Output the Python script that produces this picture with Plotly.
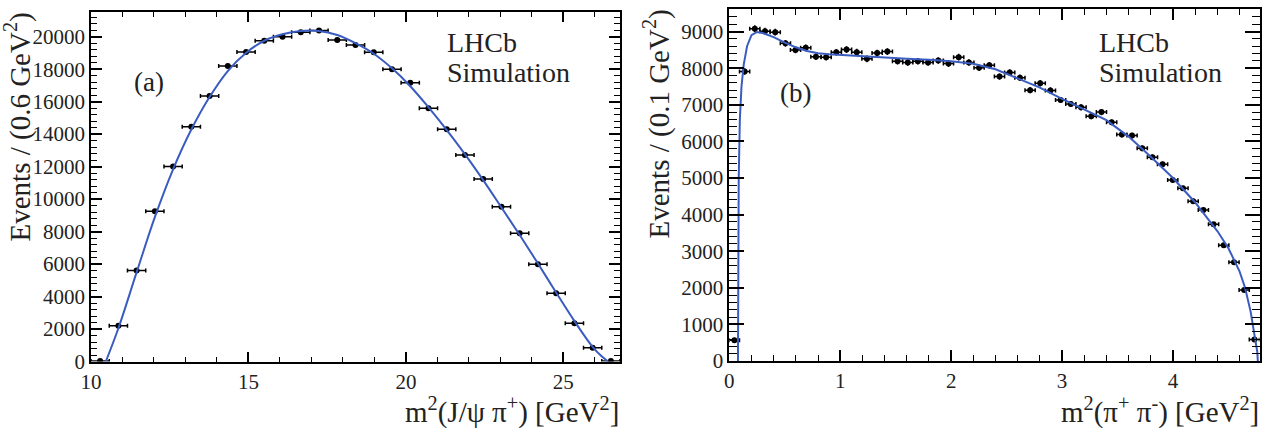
import plotly.graph_objects as go

# ---------------- data: panel (a) ----------------
a_x = [10.290, 10.869, 11.448, 12.028, 12.607, 13.186, 13.766, 14.345, 14.924, 15.503,
       16.083, 16.662, 17.241, 17.821, 18.400, 18.979, 19.559, 20.138, 20.717, 21.297,
       21.876, 22.455, 23.034, 23.614, 24.193, 24.772, 25.352, 25.931, 26.510]
a_y = [30, 2200, 5600, 9250, 12000, 14450, 16350, 18200, 19050, 19750,
       20000, 20270, 20380, 19800, 19490, 19040, 17990, 17170, 15590, 14300,
       12720, 11240, 9530, 7890, 5990, 4200, 2350, 850, 30]
a_halfbin = 0.2897

a_fit_x = [10.47, 10.87, 11.45, 12.03, 12.61, 13.19, 13.77, 14.35, 14.92, 15.5,
           16.08, 16.66, 17.24, 17.82, 18.4, 18.98, 19.56, 20.14, 20.72, 21.3,
           21.88, 22.46, 23.03, 23.61, 24.19, 24.77, 25.35, 25.93, 26.2, 26.42]
a_fit_y = [0, 2050, 5500, 8900, 11850, 14300, 16300, 17900, 19000, 19750,
           20150, 20350, 20350, 20100, 19600, 18950, 18050, 16950, 15650, 14250,
           12750, 11150, 9500, 7800, 6050, 4250, 2500, 900, 350, 0]

# ---------------- data: panel (b) ----------------
b_x = [0.046, 0.138, 0.230, 0.322, 0.414, 0.506, 0.597, 0.689, 0.781, 0.873,
       0.965, 1.057, 1.149, 1.241, 1.333, 1.425, 1.517, 1.609, 1.700, 1.792,
       1.884, 1.976, 2.068, 2.160, 2.252, 2.344, 2.436, 2.528, 2.620, 2.712,
       2.803, 2.895, 2.987, 3.079, 3.171, 3.263, 3.355, 3.447, 3.539, 3.631,
       3.723, 3.815, 3.906, 3.998, 4.090, 4.182, 4.274, 4.366, 4.458, 4.550,
       4.642, 4.734]
b_y = [570, 7910, 9080, 9010, 8985, 8680, 8500, 8555, 8312, 8298,
       8435, 8508, 8437, 8255, 8412, 8455, 8190, 8155, 8190, 8155,
       8210, 8125, 8300, 8155, 8010, 8080, 7770, 7880, 7740, 7400,
       7590, 7390, 7130, 7020, 6930, 6690, 6800, 6520, 6185, 6160,
       5810, 5570, 5375, 4945, 4720, 4365, 4128, 3735, 3160, 2700,
       1940, 590]
b_halfbin = 0.046

b_fit_x = [0.078, 0.080, 0.085, 0.095, 0.11, 0.13, 0.16, 0.2, 0.25, 0.3, 0.4, 0.5,
           0.6, 0.7, 0.8, 0.9, 1.0, 1.2, 1.4, 1.6, 1.8, 2.0, 2.2, 2.4, 2.6, 2.8,
           3.0, 3.2, 3.4, 3.6, 3.8, 4.0, 4.2, 4.4, 4.5, 4.6, 4.65, 4.7, 4.73,
           4.75, 4.76, 4.765]
b_fit_y = [0, 2500, 5000, 6600, 7500, 8100, 8600, 8900, 8990, 8960, 8850, 8700,
           8570, 8470, 8410, 8380, 8360, 8330, 8300, 8260, 8230, 8190, 8120, 7970,
           7720, 7470, 7160, 6870, 6580, 6130, 5580, 5000, 4330, 3550, 3080, 2450,
           2000, 1350, 850, 450, 250, 0]

FONT = "Liberation Serif"
W, H = 1273, 430
FIT_COLOR = "#3a5cc0"
TXT = "#222222"

def px(x):
    return x / W

def py(y):
    return (H - y) / H

fig = go.Figure()

def data_trace(x, y, hb, xa, ya):
    return go.Scatter(
        x=x, y=y, mode="markers", xaxis=xa, yaxis=ya,
        marker=dict(color="black", size=6),
        error_x=dict(type="data", array=[hb] * len(x), color="black", thickness=1.5, width=2),
        error_y=dict(type="data", array=[v ** 0.5 for v in y], color="black", thickness=1.5, width=0),
        showlegend=False,
    )

fig.add_trace(data_trace(a_x, a_y, a_halfbin, "x", "y"))
fig.add_trace(go.Scatter(x=a_fit_x, y=a_fit_y, mode="lines", xaxis="x", yaxis="y",
                         line=dict(color=FIT_COLOR, width=2, shape="spline"), showlegend=False))
fig.add_trace(data_trace(b_x, b_y, b_halfbin, "x2", "y2"))
fig.add_trace(go.Scatter(x=b_fit_x, y=b_fit_y, mode="lines", xaxis="x2", yaxis="y2",
                         line=dict(color=FIT_COLOR, width=2), showlegend=False))

def axis(domain, rng, dtick, minor_dtick, anchor, tl, mtl):
    return dict(
        domain=domain, range=rng, anchor=anchor, dtick=dtick, tick0=0,
        automargin=False, tickformat="d",
        showgrid=False, zeroline=False, showline=True, linecolor="black", linewidth=1.6,
        mirror="allticks", ticks="inside", ticklen=tl, tickwidth=1.6, tickcolor="black",
        minor=dict(ticks="inside", ticklen=mtl, tickwidth=1.3, tickcolor="black",
                   dtick=minor_dtick, showgrid=False),
        tickfont=dict(family=FONT, size=21, color=TXT),
    )

xd1 = [px(91), px(620)]
xd2 = [px(729.3), px(1259.5)]
yd1 = [py(361.5), py(12)]
yd2 = [py(361), py(9)]

fig.update_layout(
    width=W, height=H, margin=dict(l=0, r=0, t=0, b=0),
    paper_bgcolor="white", plot_bgcolor="white",
    font=dict(family=FONT, color=TXT),
    xaxis=axis(xd1, [10, 26.8], 5, 1, "y", 10, 5),
    yaxis=axis(yd1, [0, 21520], 2000, 400, "x", 11, 6),
    xaxis2=axis(xd2, [0, 4.78], 1, 0.2, "y2", 11, 6),
    yaxis2=axis(yd2, [0, 9617], 1000, 200, "x2", 15, 8),
)

def ann(text, x, y, xanchor="left", yanchor="middle", size=26, angle=0):
    fig.add_annotation(text=text, x=x, y=y, xref="paper", yref="paper",
                       xanchor=xanchor, yanchor=yanchor, showarrow=False,
                       textangle=angle, font=dict(family=FONT, size=size, color=TXT))

# axis titles
ann("m<sup>2</sup>(J/ψ π<sup>+</sup>) [GeV<sup>2</sup>]", px(621), py(410), xanchor="right", size=29)
ann("m<sup>2</sup>(π<sup>+</sup> π<sup>-</sup>) [GeV<sup>2</sup>]", px(1261), py(410), xanchor="right", size=29)
ann("Events / (0.6 GeV<sup>2</sup>)", px(18), py(11), xanchor="center", yanchor="top", size=29, angle=-90)
ann("Events / (0.1 GeV<sup>2</sup>)", px(657), py(8), xanchor="center", yanchor="top", size=29, angle=-90)

# labels
ann("LHCb", px(445), py(42), size=28)
ann("Simulation", px(445), py(72), size=28)
ann("(a)", px(132), py(82), size=27)
ann("LHCb", px(1097), py(42), size=28)
ann("Simulation", px(1097), py(72), size=28)
ann("(b)", px(778), py(93), size=27)

fig.write_html("out.html", config={"displayModeBar": False},
               post_script="document.body.style.margin='0';")
